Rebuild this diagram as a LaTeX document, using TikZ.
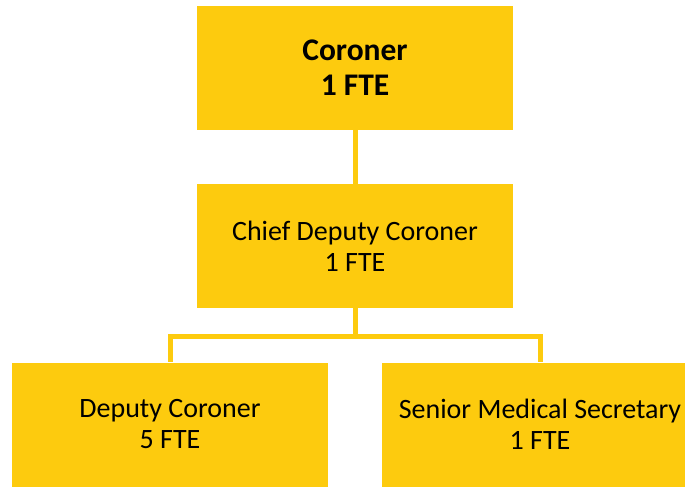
\documentclass[tikz,border=0pt]{standalone}
\usepackage{fontspec}
\setmainfont{Carlito}
\definecolor{boxyellow}{RGB}{253,203,14}
\tikzset{
  orgbox/.style={rectangle, fill=boxyellow, draw=none, minimum width=316pt, minimum height=124pt, inner sep=0pt, align=center, font=\fontsize{28}{31}\selectfont},
  link/.style={draw=boxyellow, line width=5pt}
}
\begin{document}
\begin{tikzpicture}[x=1pt,y=1pt]
\useasboundingbox (0,0) rectangle (685,-487);
\clip (0,0) rectangle (685,-487);
\node[orgbox, font=\fontsize{31.5}{35}\selectfont\bfseries] (cor) at (355,-68) {Coroner\\1 FTE};
\node[orgbox] (chief) at (355,-246) {Chief Deputy Coroner\\1 FTE};
\node[orgbox] (dep) at (170,-424.5) {Deputy Coroner\\5 FTE};
\node[orgbox] (sec) at (540,-424.5) {Senior Medical Secretary\\1 FTE};
\coordinate (junc) at (355,-336);
\draw[link] (cor.south) -- (chief.north);
\draw[link] (chief.south) -- (junc);
\draw[link] (junc) -| (dep.north);
\draw[link] (junc) -| (sec.north);
\end{tikzpicture}
\end{document}
